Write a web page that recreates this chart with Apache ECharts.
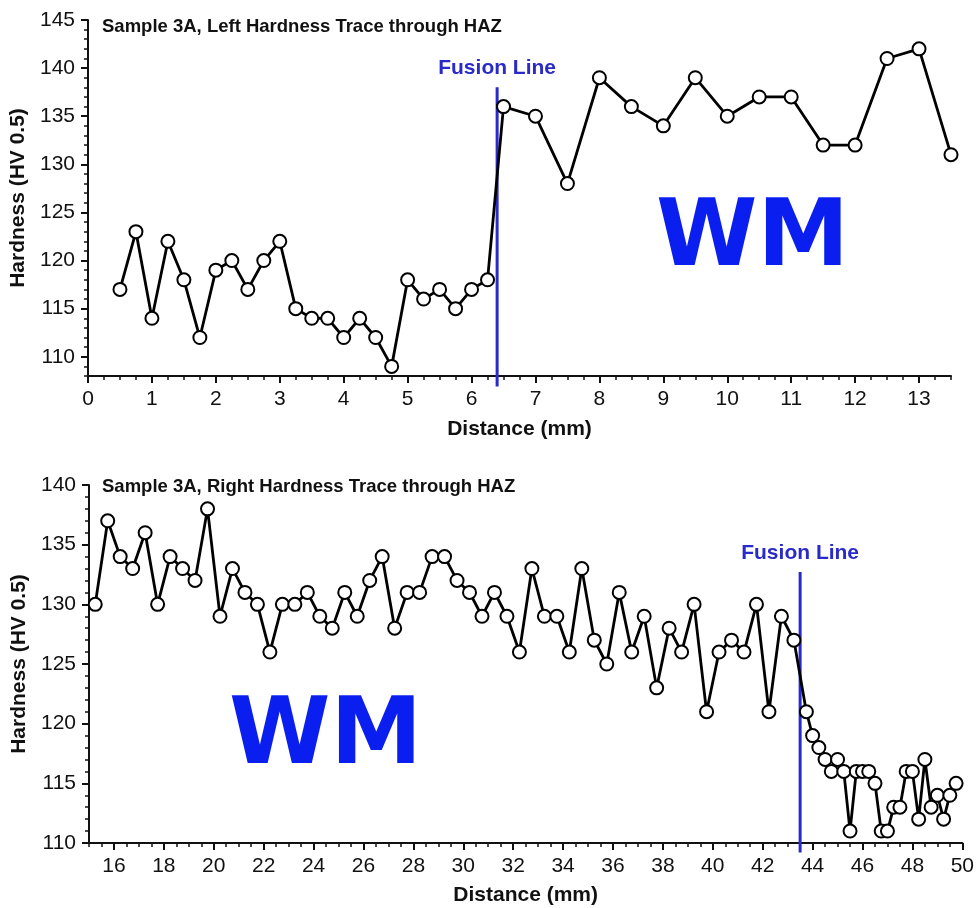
<!DOCTYPE html>
<html>
<head>
<meta charset="utf-8">
<script src="https://cdn.jsdelivr.net/npm/echarts@6/dist/echarts.min.js"></script>
<style>
  html, body { margin: 0; padding: 0; background: #fff; }
  #chart { width: 977px; height: 908px; }
</style>
</head>
<body>
<div id="chart"></div>
<script>
// left trace (top panel)
const leftDistance = [
  0.5, 0.75, 1, 1.25, 1.5, 1.75, 2, 2.25, 2.5, 2.75, 3, 3.25, 3.5, 3.75,
  4, 4.25, 4.5, 4.75, 5, 5.25, 5.5, 5.75, 6, 6.25,
  6.5, 7, 7.5, 8, 8.5, 9, 9.5, 10, 10.5, 11, 11.5, 12, 12.5, 13, 13.5
];
const leftHardness = [
  117, 123, 114, 122, 118, 112, 119, 120, 117, 120, 122, 115, 114, 114,
  112, 114, 112, 109, 118, 116, 117, 115, 117, 118,
  136, 135, 128, 139, 136, 134, 139, 135, 137, 137, 132, 132, 141, 142, 131
];
const leftXTicks = [0, 1, 2, 3, 4, 5, 6, 7, 8, 9, 10, 11, 12, 13];
const leftYTicks = [110, 115, 120, 125, 130, 135, 140, 145];
const leftFusion = [[6.4, 106.9], [6.4, 138]];

// right trace (bottom panel)
const rightDistance = [
  15.25, 15.75, 16.25, 16.75, 17.25, 17.75, 18.25, 18.75, 19.25, 19.75,
  20.25, 20.75, 21.25, 21.75, 22.25, 22.75, 23.25, 23.75, 24.25, 24.75,
  25.25, 25.75, 26.25, 26.75, 27.25, 27.75, 28.25, 28.75, 29.25, 29.75,
  30.25, 30.75, 31.25, 31.75, 32.25, 32.75, 33.25, 33.75, 34.25, 34.75,
  35.25, 35.75, 36.25, 36.75, 37.25, 37.75, 38.25, 38.75, 39.25, 39.75,
  40.25, 40.75, 41.25, 41.75, 42.25, 42.75, 43.25, 43.75,
  44, 44.25, 44.5, 44.75, 45, 45.25, 45.5, 45.75, 46, 46.25, 46.5, 46.75,
  47, 47.25, 47.5, 47.75, 48, 48.25, 48.5, 48.75, 49, 49.25, 49.5, 49.75
];
const rightHardness = [
  130, 137, 134, 133, 136, 130, 134, 133, 132, 138,
  129, 133, 131, 130, 126, 130, 130, 131, 129, 128,
  131, 129, 132, 134, 128, 131, 131, 134, 134, 132,
  131, 129, 131, 129, 126, 133, 129, 129, 126, 133,
  127, 125, 131, 126, 129, 123, 128, 126, 130, 121,
  126, 127, 126, 130, 121, 129, 127, 121,
  119, 118, 117, 116, 117, 116, 111, 116, 116, 116, 115, 111,
  111, 113, 113, 116, 116, 112, 117, 113, 114, 112, 114, 115
];
const rightXTicks = [16, 18, 20, 22, 24, 26, 28, 30, 32, 34, 36, 38, 40, 42, 44, 46, 48, 50];
const rightYTicks = [110, 115, 120, 125, 130, 135, 140];
const rightFusion = [[43.5, 109.2], [43.5, 132.7]];

const ink = '#111';
const blue = '#2a2ac8';
const font = 'Liberation Sans, Arial, sans-serif';

function pairs(xs, ys) {
  return xs.map((x, i) => [x, ys[i]]);
}

// axis with long ticks + labels at given values
function majorAxis(gridIndex, position, min, max, ticks, name, nameGap) {
  return {
    type: 'value',
    gridIndex,
    position,
    min,
    max,
    name,
    nameLocation: 'middle',
    nameGap,
    nameTextStyle: { fontFamily: font, fontWeight: 'bold', fontSize: 21, color: ink },
    splitLine: { show: false },
    axisLine: { show: true, onZero: false, lineStyle: { color: ink, width: 2 } },
    axisTick: { show: true, customValues: ticks, length: 7, lineStyle: { color: ink, width: 2 } },
    axisLabel: { customValues: ticks, fontFamily: font, fontSize: 21, color: ink, margin: 13 }
  };
}

// overlaid axis that only draws the short ticks
function minorAxis(gridIndex, position, min, max, step) {
  return {
    type: 'value',
    gridIndex,
    position,
    min,
    max,
    interval: step,
    splitLine: { show: false },
    axisLine: { show: false, onZero: false },
    axisTick: { show: true, length: 4, lineStyle: { color: ink, width: 1.5 } },
    axisLabel: { show: false }
  };
}

function traceSeries(idx, data) {
  return {
    type: 'line',
    xAxisIndex: idx,
    yAxisIndex: idx,
    data,
    symbol: 'circle',
    symbolSize: 13,
    showAllSymbol: true,
    lineStyle: { color: '#000', width: 2.8 },
    itemStyle: { color: '#fff', borderColor: '#000', borderWidth: 2 },
    z: 3
  };
}

function fusionSeries(idx, data) {
  return {
    type: 'line',
    xAxisIndex: idx,
    yAxisIndex: idx,
    data,
    clip: false,
    symbol: 'none',
    lineStyle: { color: blue, width: 3 },
    z: 2,
    markPoint: {
      symbol: 'circle',
      symbolSize: 1,
      itemStyle: { color: 'rgba(0,0,0,0)' },
      label: {
        show: true,
        position: 'top',
        distance: 8,
        formatter: 'Fusion Line',
        fontFamily: font,
        fontWeight: 'bold',
        fontSize: 21,
        color: blue
      },
      data: [{ coord: data[1] }]
    }
  };
}

const wmStyle = {
  text: 'WM',
  fontFamily: 'DejaVu Sans, sans-serif',
  fontWeight: 'bold',
  fontSize: 92,
  fill: '#0a1ef0'
};

const chart = echarts.init(document.getElementById('chart'), null, { renderer: 'canvas' });

chart.setOption({
  animation: false,
  backgroundColor: '#fff',
  title: [
    {
      text: 'Sample 3A, Left Hardness Trace through HAZ',
      left: 97, top: 12,
      textStyle: { fontFamily: font, fontWeight: 'bold', fontSize: 18.5, color: ink }
    },
    {
      text: 'Sample 3A, Right Hardness Trace through HAZ',
      left: 97, top: 472,
      textStyle: { fontFamily: font, fontWeight: 'bold', fontSize: 18.5, color: ink }
    }
  ],
  grid: [
    { left: 88, top: 20, width: 863, height: 356 },
    { left: 89, top: 485, width: 874, height: 358 }
  ],
  xAxis: [
    majorAxis(0, 'bottom', 0, 13.5, leftXTicks, 'Distance (mm)', 43),
    minorAxis(0, 'bottom', 0, 13.5, 0.25),
    majorAxis(1, 'bottom', 15, 50, rightXTicks, 'Distance (mm)', 42),
    minorAxis(1, 'bottom', 15, 50, 0.5)
  ],
  yAxis: [
    majorAxis(0, 'left', 108, 145, leftYTicks, 'Hardness (HV 0.5)', 51),
    minorAxis(0, 'left', 108, 145, 1),
    majorAxis(1, 'left', 110, 140, rightYTicks, 'Hardness (HV 0.5)', 51),
    minorAxis(1, 'left', 110, 140, 1)
  ],
  series: [
    fusionSeries(0, leftFusion),
    traceSeries(0, pairs(leftDistance, leftHardness)),
    fusionSeries(2, rightFusion),
    traceSeries(2, pairs(rightDistance, rightHardness))
  ],
  graphic: [
    { type: 'text', left: 656, top: 195, z: 1, style: wmStyle },
    { type: 'text', left: 229, top: 693, z: 1, style: wmStyle }
  ]
});
</script>
</body>
</html>
